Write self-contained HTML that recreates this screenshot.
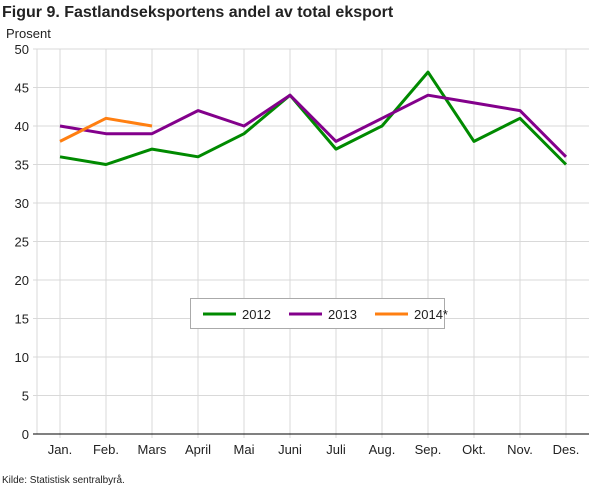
<!DOCTYPE html>
<html><head><meta charset="utf-8"><style>
body{margin:0;background:#fff;font-family:"Liberation Sans",sans-serif;}
svg text{font-family:"Liberation Sans",sans-serif;}
</style></head><body>
<svg id="chart" width="610" height="488" xmlns="http://www.w3.org/2000/svg">
<text x="2" y="17" font-size="16" font-weight="bold" fill="#222">Figur 9. Fastlandseksportens andel av total eksport</text>
<text x="6" y="38" font-size="13" fill="#222">Prosent</text>
<text x="2" y="483" font-size="10" fill="#222">Kilde: Statistisk sentralbyrå.</text>
<g id="grid"></g><g id="series"></g><g id="axes"></g>
<g>
<rect x="190.5" y="298.5" width="254" height="30" fill="#fff" stroke="#aaa"/>
<line x1="203" y1="314" x2="236" y2="314" stroke="#008a00" stroke-width="3"/>
<text x="242" y="319" font-size="13" fill="#222">2012</text>
<line x1="289" y1="314" x2="322" y2="314" stroke="#83008b" stroke-width="3"/>
<text x="328" y="319" font-size="13" fill="#222">2013</text>
<line x1="375" y1="314" x2="408" y2="314" stroke="#ff7f11" stroke-width="3"/>
<text x="414" y="319" font-size="13" fill="#222">2014*</text>
</g>
</svg>
<script>
const categories=["Jan.","Feb.","Mars","April","Mai","Juni","Juli","Aug.","Sep.","Okt.","Nov.","Des."];
const s2012=[36,35,37,36,39,44,37,40,47,38,41,35];
const s2013=[40,39,39,42,40,44,38,41,44,43,42,36];
const s2014=[38,41,40];
const yTicks=[0,5,10,15,20,25,30,35,40,45,50];
const NS="http://www.w3.org/2000/svg";
const L=37,R=589,T=49,B=434,band=(R-L)/categories.length;
const x=i=>L+band*(i+0.5), y=v=>B-(v/50)*(B-T);
function mk(t,a,p){const e=document.createElementNS(NS,t);for(const k in a)e.setAttribute(k,a[k]);p.appendChild(e);return e;}
const g=document.getElementById('grid'),ax=document.getElementById('axes'),sg=document.getElementById('series');
yTicks.forEach(v=>{
 const l=mk('line',{x1:L-4,x2:R,y1:y(v),y2:y(v),stroke:v===0?'#000':'#d9d9d9','stroke-width':1},v===0?ax:g);
 
 
 const t=mk('text',{x:L-8,y:y(v)+5,'text-anchor':'end','font-size':13,fill:'#222'},ax);t.textContent=v;
 
 
});
categories.forEach((c,i)=>{
 const l=mk('line',{x1:x(i),x2:x(i),y1:T,y2:B+4,stroke:'#d9d9d9'},g);
 
 
 const t=mk('text',{x:x(i),y:B+20,'text-anchor':'middle','font-size':13,fill:'#222'},ax);t.textContent=c;
 
 
});
const yl=mk('line',{x1:L,x2:L,y1:T,y2:B,stroke:'#d9d9d9'},g);


[[s2012,'#008a00','series-2012'],[s2013,'#83008b','series-2013'],[s2014,'#ff7f11','series-2014']].forEach(([d,c,n])=>{
 const p=mk('polyline',{points:d.map((v,i)=>x(i)+','+y(v)).join(' '),fill:'none',stroke:c,'stroke-width':3,'stroke-linejoin':'round'},sg);
 
 
});
</script>
</body></html>
